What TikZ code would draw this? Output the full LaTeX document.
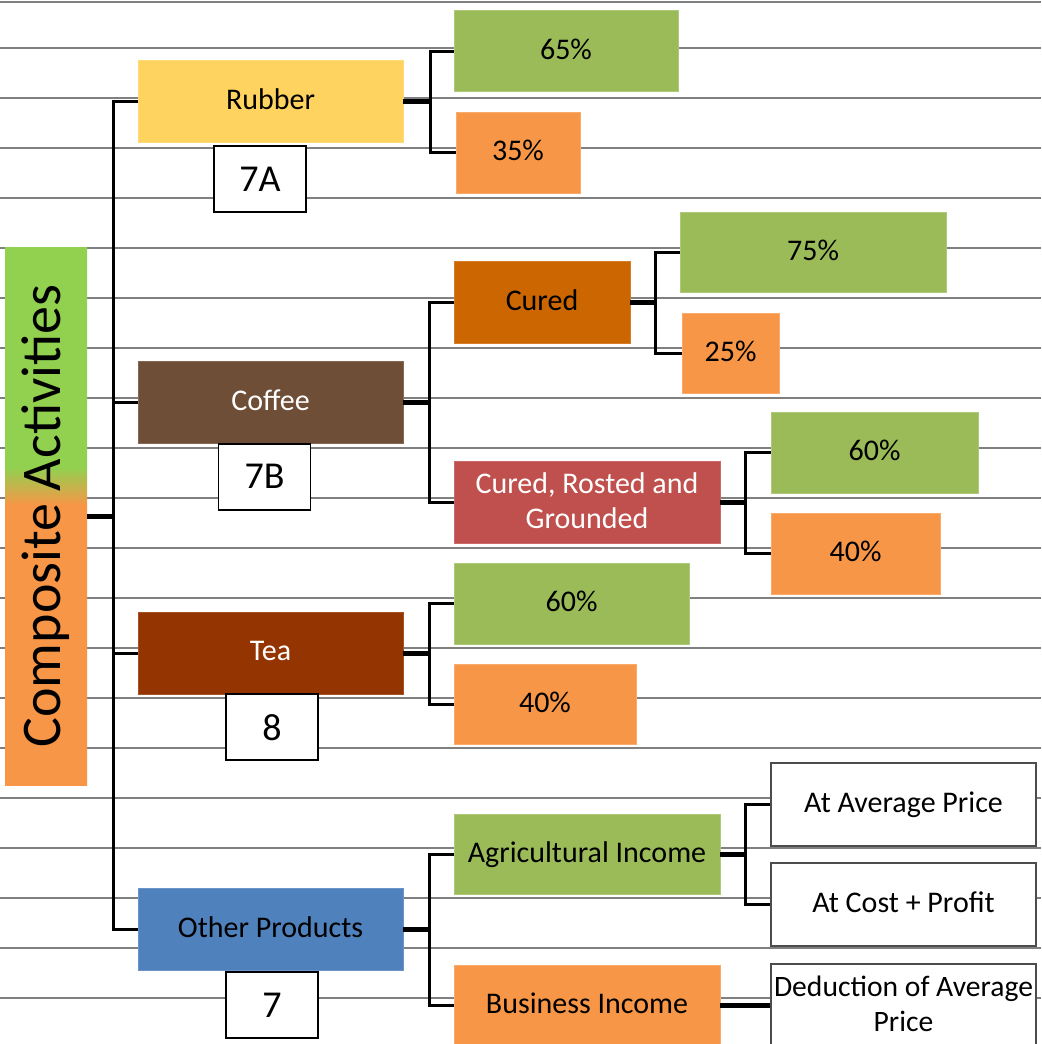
\documentclass[tikz,border=0pt]{standalone}
\usepackage{fontspec}
\setmainfont{Carlito}
\usetikzlibrary{positioning}

\definecolor{leafgreen}{HTML}{92D050}
\definecolor{sharegreen}{HTML}{9BBB59}
\definecolor{shareorange}{HTML}{F79646}
\definecolor{rubbergold}{HTML}{FFD35F}
\definecolor{coffeebrown}{HTML}{6F4E37}
\definecolor{teabrown}{HTML}{943400}
\definecolor{otherblue}{HTML}{4F81BD}
\definecolor{curedorange}{HTML}{CC6600}
\definecolor{groundred}{HTML}{C0504D}

\pgfdeclareverticalshading{compshade}{100bp}{color(0bp)=(shareorange); color(51bp)=(shareorange);
  color(54.5bp)=(leafgreen); color(100bp)=(leafgreen)}

\begin{document}
\begin{tikzpicture}[
x=0.5pt, y=-0.5pt,
box/.style={rectangle, inner sep=0pt, minimum height=41pt, text centered, align=center,
  text depth=0.2em, font=\fontsize{15}{17.5}\selectfont},
cat/.style={box, minimum width=132.5pt, draw=#1!85!white, fill=#1},
share/.style={box, minimum height=40.5pt, draw=#1!80!white, fill=#1},
code/.style={rectangle, inner sep=0pt, draw=black, line width=0.8pt, fill=white,
  minimum width=46pt, minimum height=33pt, font=\fontsize{19}{21}\selectfont},
way/.style={box, draw=black!70, line width=1.2pt, fill=white, minimum width=132.5pt, minimum height=41.5pt},
comp/.style={rectangle, inner sep=0pt, minimum width=41pt, minimum height=269pt, shading=compshade,
  font=\fontsize{28}{30}\selectfont},
rule/.style={draw=black!50, line width=1pt},
stub/.style={line width=2.5pt},
branch/.style={line width=1.5pt}
]

\useasboundingbox (0,0) rectangle (1041,1044);
\clip (0,0) rectangle (1041,1044);
\fill[white] (0,0) rectangle (1041,1044);

% ruled background
\draw[rule] (0,1.5) -- (1041,1.5);
\foreach \k in {1,...,20}
  \draw[rule] (0,50*\k-2) -- (1041,50*\k-2);

% root
\node[comp] (comp) at (46,516) {\rotatebox{90}{Composite Activities}};

% products
\node[cat=rubbergold] (rubber) at (270.5,101) {Rubber};
\node[cat=coffeebrown, text=white] (coffee) at (270.5,402.5) {Coffee};
\node[cat=teabrown, text=white] (tea) at (270.5,653) {Tea};
\node[cat=otherblue] (other) at (270.5,929) {Other Products};

\node[code, below=1.5pt of rubber, xshift=-5.25pt] (rule7a) {7A};
\node[code, below=-0.5pt of coffee, xshift=-3pt] (rule7b) {7B};
\node[code, below=-0.5pt of tea, xshift=0.75pt] (rule8) {8};
\node[code, below=0.5pt of other, xshift=0.75pt] (rule7) {7};

% rubber split
\node[share=sharegreen, minimum width=112pt] (rub65) at (566,51) {65\%};
\node[share=shareorange, minimum width=62pt] (rub35) at (518,152.5) {35\%};

% coffee split
\node[box, minimum width=88pt, draw=curedorange!85!white, fill=curedorange] (cured) at (542,302.5) {Cured};
\node[box, minimum width=133pt, draw=groundred!85!white, fill=groundred, text=white] (ground) at (587,502.5) {Cured, Rosted and\\Grounded};
\node[share=sharegreen, minimum width=133pt, minimum height=40pt] (cur75) at (813,252) {75\%};
\node[share=shareorange, minimum width=48.5pt, minimum height=40pt] (cur25) at (730.5,353) {25\%};
\node[share=sharegreen, minimum width=103.5pt] (gr60) at (874.5,452.5) {60\%};
\node[share=shareorange, minimum width=84.5pt] (gr40) at (855.5,553.5) {40\%};

% tea split
\node[share=sharegreen, minimum width=117.5pt] (tea60) at (571.5,603.5) {60\%};
\node[share=shareorange, minimum width=91pt, minimum height=40pt] (tea40) at (545,704) {40\%};

% other products split
\node[share=sharegreen, minimum width=133pt, minimum height=40pt] (agri) at (587,854) {Agricultural Income};
\node[share=shareorange, minimum width=133pt] (biz) at (587,1005.5) {Business Income};
\node[way] (avg) at (903.5,804.5) {At Average Price};
\node[way] (cost) at (903.5,904.5) {At Cost + Profit};
\node[way, font=\fontsize{14.8}{17.5}\selectfont] (deduct) at (903.5,1005.5) {Deduction of Average\\Price};

% connectors
\coordinate (hub) at (113,516);
\draw[stub] (comp.east) -- (hub);
\foreach \n in {rubber,coffee,tea,other}
  \draw[branch] (hub) |- (\n.west);

\draw[stub] (rubber.east) -- ++(27,0) coordinate (rubfork);
\draw[branch] (rubfork) |- (rub65.west);
\draw[branch] (rubfork) |- (rub35.west);

\draw[stub] (coffee.east) -- ++(26,0) coordinate (coffork);
\draw[branch] (coffork) |- (cured.west);
\draw[branch] (coffork) |- (ground.west);

\draw[stub] (cured.east) -- ++(25.5,0) coordinate (curfork);
\draw[branch] (curfork) |- (cur75.west);
\draw[branch] (curfork) |- (cur25.west);

\draw[stub] (ground.east) -- ++(25.5,0) coordinate (grfork);
\draw[branch] (grfork) |- (gr60.west);
\draw[branch] (grfork) |- (gr40.west);

\draw[stub] (tea.east) -- ++(26,0) coordinate (teafork);
\draw[branch] (teafork) |- (tea60.west);
\draw[branch] (teafork) |- (tea40.west);

\draw[stub] (other.east) -- ++(26,0) coordinate (othfork);
\draw[branch] (othfork) |- (agri.west);
\draw[branch] (othfork) |- (biz.west);

\draw[stub] (agri.east) -- ++(25,0) coordinate (agrifork);
\draw[branch] (agrifork) |- (avg.west);
\draw[branch] (agrifork) |- (cost.west);

\draw[stub] (biz.east) -- (deduct.west);
\end{tikzpicture}
\end{document}
